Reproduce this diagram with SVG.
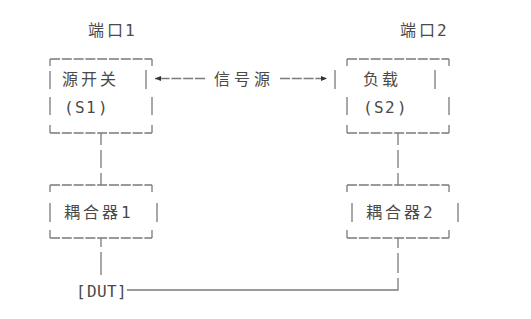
<svg xmlns="http://www.w3.org/2000/svg" width="531" height="319" viewBox="0 0 531 319">
<defs>
<style>
.t{font-family:"Noto Sans CJK SC","DejaVu Sans Mono",sans-serif;font-size:16px;fill:#4a4a4a;}
.m{font-family:"DejaVu Sans Mono","Liberation Mono",monospace;font-size:16px;fill:#4a4a4a;}
.s{stroke:#7a7a7a;stroke-width:1.3;fill:none;}
.d{stroke:#7a7a7a;stroke-width:1.3;fill:none;stroke-dasharray:10 1.8;}
</style>
<marker id="ah" viewBox="0 0 10 10" refX="10" refY="5" markerWidth="6" markerHeight="6" orient="auto-start-reverse" markerUnits="userSpaceOnUse">
<path d="M0,1 L10,5 L0,9 Z" fill="#333"/>
</marker>
</defs>
<rect width="531" height="319" fill="#fff"/>
<text class="t" x="88 107" y="36">端口</text><text class="m" x="125" y="36">1</text>
<text class="t" x="400 419" y="36">端口</text><text class="m" x="437" y="36">2</text>
<g id="s1">
<path class="d" d="M50,59 H152 M50,133 H152"/>
<path class="s" d="M50,66 V59 M152,66 V59 M50,71 V89 M50,97 V115 M146,70 V89 M152,97 V115 M50,125 V133 M152,125 V133"/>
<text class="t" x="62 81 100" y="85">源开关</text>
<text class="m" x="64 75 86 98" y="113">(S1)</text>
</g>
<g id="s2">
<path class="d" d="M347,59 H449 M347,133 H449"/>
<path class="s" d="M347,66 V59 M449,66 V59 M335,70 V89 M347,97 V115 M435,70 V89 M449,97 V115 M347,125 V133 M449,125 V133"/>
<text class="t" x="363 382" y="85">负载</text>
<text class="m" x="363 374 385 397" y="113">(S2)</text>
</g>
<g id="c1">
<path class="d" d="M50,185 H152 M50,238 H152"/>
<path class="s" d="M50,192 V185 M152,192 V185 M50,203 V222 M157,203 V222 M50,230 V238 M152,230 V238"/>
<text class="t" x="64 83 102" y="218">耦合器</text><text class="m" x="121" y="218">1</text>
</g>
<g id="c2">
<path class="d" d="M347,185 H449 M347,238 H449"/>
<path class="s" d="M347,192 V185 M449,192 V185 M352,203 V222 M458,203 V222 M347,230 V238 M449,230 V238"/>
<text class="t" x="366 385 404" y="218">耦合器</text><text class="m" x="423" y="218">2</text>
</g>
<g id="sig">
<text class="t" x="214 234 254" y="85">信号源</text>
</g>
<g id="dut">
<text class="m" x="76 87 97 107 117" y="297">[DUT]</text>
</g>
<g id="connectors">
<path class="d" d="M205,78.5 H155" marker-end="url(#ah)"/>
<path class="d" d="M280,78.5 H327" marker-end="url(#ah)"/>
<path class="s" d="M101,133 V145 M101,150 V168 M101,173 V185"/>
<path class="s" d="M398,133 V145 M398,150 V168 M398,173 V185"/>
<path class="s" d="M101,238 V247 M101,252 V275"/>
<path class="s" d="M398,238 V248 M398,253 V273 M398,278 V290 H127"/>
</g>
</svg>
